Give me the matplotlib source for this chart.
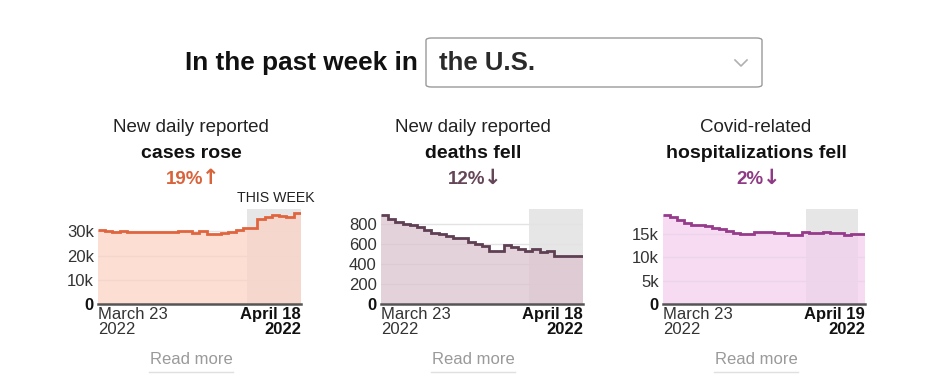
import matplotlib
matplotlib.use("Agg")
import matplotlib.pyplot as plt
from matplotlib.patches import FancyBboxPatch
from matplotlib.lines import Line2D

FAM = ["Liberation Sans", "DejaVu Sans"]
plt.rcParams['font.family'] = FAM

# ---------------- data ----------------
region = "the U.S."
cases_k = [30.5, 30.0, 29.9, 30.1, 29.8, 29.6, 29.8, 29.6, 29.7, 29.9, 29.9, 30.1, 30.1,
           29.4, 30.1, 28.8, 28.8, 29.2, 29.9, 30.5, 31.4, 31.4, 35.0, 36.0, 36.6, 36.3,
           36.1, 37.7]
deaths = [885, 850, 813, 800, 783, 763, 740, 707, 697, 674, 657, 657, 614, 597, 574,
          524, 524, 584, 568, 548, 524, 548, 518, 531, 481, 481, 481, 481]
hosp_k = [19.1, 18.5, 18.0, 17.3, 16.9, 16.9, 16.7, 16.3, 16.0, 15.6, 15.1, 15.0, 15.0,
          15.4, 15.4, 15.4, 15.2, 15.1, 14.8, 14.8, 15.3, 15.1, 15.1, 15.3, 15.2, 15.1,
          14.8, 14.9, 15.0]
cases_ticks = [0, 10, 20, 30]
cases_ticklabels = ["0", "10k", "20k", "30k"]
deaths_ticks = [0, 200, 400, 600, 800]
deaths_ticklabels = ["0", "200", "400", "600", "800"]
hosp_ticks = [0, 5, 10, 15]
hosp_ticklabels = ["0", "5k", "10k", "15k"]
start_labels = ["March 23\n2022", "March 23\n2022", "March 23\n2022"]
end_labels = ["April 18\n2022", "April 18\n2022", "April 19\n2022"]
line1 = ["New daily reported", "New daily reported", "Covid-related"]
line2 = ["cases rose", "deaths fell", "hospitalizations fell"]
pcts = ["19%", "12%", "2%"]
arrows = ["\u2191", "\u2193", "\u2193"]

W, H = 937, 389
fig = plt.figure(figsize=(W / 100, H / 100), dpi=100)
fig.patch.set_facecolor("white")

def fx(px):
    return px / W

def fy(py):
    return 1 - py / H

# header
fig.text(fx(185), fy(63), "In the past week in", fontsize=18.8, fontweight="bold",
         ha="left", va="center", color="#111111")
box = FancyBboxPatch((fx(426), fy(87)), fx(762) - fx(426), fy(38) - fy(87),
                     boxstyle="round,pad=0,rounding_size=0.006",
                     transform=fig.transFigure, facecolor="white",
                     edgecolor="#9a9a9a", lw=1.0)
fig.add_artist(box)
fig.text(fx(439), fy(63), region, fontsize=18.5, fontweight="bold", ha="left",
         va="center", color="#2a2a2a")
fig.add_artist(Line2D([fx(735), fx(741), fx(747)], [fy(60), fy(66), fy(60)],
                      transform=fig.transFigure, color="#b0b0b0", lw=1.2))

charts = [
    dict(vals=cases_k, ticks=cases_ticks, tl=cases_ticklabels, top=39.2,
         line="#e0653e", fill="#fbd3c5", pc="#d9633a", left=98, right=301, cx=191),
    dict(vals=deaths, ticks=deaths_ticks, tl=deaths_ticklabels, top=945,
         line="#5f3f53", fill="#dcc3cf", pc="#654659", left=381, right=583, cx=473),
    dict(vals=hosp_k, ticks=hosp_ticks, tl=hosp_ticklabels, top=20.3,
         line="#963b8b", fill="#f3d0ee", pc="#8e3a84", left=663, right=865, cx=756),
]

for i, c in enumerate(charts):
    ax = fig.add_axes([fx(c["left"]), fy(304), fx(c["right"] - c["left"]), fy(209) - fy(304)])
    v = c["vals"]
    n = len(v)
    edges = list(range(n + 1))
    shade_end = 28 if i == 2 else n
    ax.axvspan(shade_end - 7.5, shade_end, color="#e6e6e6", zorder=0, lw=0)
    for t in c["ticks"][1:]:
        ax.axhline(t, color="#e3e3e3", lw=1, zorder=1)
    ax.stairs(v, edges, fill=True, color=c["fill"], alpha=0.75, zorder=2, lw=0)
    ax.stairs(v, edges, color=c["line"], lw=2.0, zorder=3, baseline=None)
    ax.set_xlim(0, n)
    ax.set_ylim(0, c["top"])
    for s in ["top", "right", "left"]:
        ax.spines[s].set_visible(False)
    ax.spines["bottom"].set_color("#555555")
    ax.spines["bottom"].set_linewidth(1.8)
    ax.set_facecolor("none")
    ax.set_yticks(c["ticks"])
    ax.set_yticklabels(c["tl"], fontsize=12, color="#333333")
    ax.get_yticklabels()[0].set_fontweight("bold")
    ax.get_yticklabels()[0].set_color("#111111")
    ax.tick_params(axis="y", length=0, pad=3)
    ax.set_xticks([0, n])
    ax.set_xticklabels([start_labels[i], end_labels[i]], fontsize=12, color="#333333",
                       linespacing=1.0)
    xl = ax.get_xticklabels()
    xl[0].set_ha("left")
    xl[1].set_ha("right")
    xl[1].set_fontweight("bold")
    xl[1].set_color("#111111")
    ax.tick_params(axis="x", length=0, pad=2)

    cx = c["cx"]
    fig.text(fx(cx), fy(128), line1[i], fontsize=13.5, ha="center", va="center", color="#222222")
    fig.text(fx(cx), fy(153), line2[i], fontsize=14, fontweight="bold", ha="center",
             va="center", color="#111111")
    fig.text(fx(cx - 6), fy(179), pcts[i], fontsize=13.5, fontweight="bold",
             ha="center", va="center", color=c["pc"])
    off = 20 if len(pcts[i]) == 3 else 16
    fig.text(fx(cx + off), fy(178), arrows[i], fontsize=15, fontweight="bold",
             family="DejaVu Sans", ha="center", va="center", color=c["pc"])
    fig.text(fx(cx), fy(359), "Read more", fontsize=12, ha="center", va="center",
             color="#9a9a9a")
    fig.add_artist(Line2D([fx(cx - 42), fx(cx + 42)], [fy(372), fy(372)],
                          transform=fig.transFigure, color="#e0e0e0", lw=1))

fig.text(fx(237), fy(198), "THIS WEEK", fontsize=10.2, ha="left", va="center",
         color="#222222")

fig.savefig("out.png", dpi=100, facecolor="white")
